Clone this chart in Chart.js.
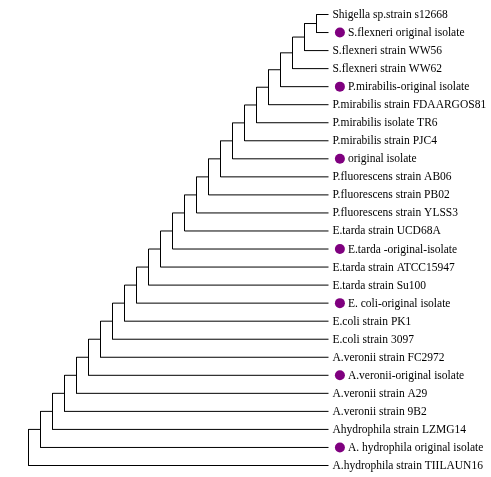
<!DOCTYPE html>
<html>
<head>
<meta charset="utf-8">
<script src="https://cdn.jsdelivr.net/npm/chart.js@4/dist/chart.umd.min.js"></script>
<style>
  html, body { margin: 0; padding: 0; background: #fff; }
  #wrap { width: 491px; height: 477px; }
</style>
</head>
<body>
<div id="wrap"><canvas id="treeChart"></canvas></div>
<script>
// leaves, top to bottom
const leafNames = [
  'Shigella sp.strain s12668',
  'S.flexneri original isolate',
  'S.flexneri strain WW56',
  'S.flexneri strain WW62',
  'P.mirabilis-original isolate',
  'P.mirabilis strain FDAARGOS81',
  'P.mirabilis isolate TR6',
  'P.mirabilis strain PJC4',
  'original isolate',
  'P.fluorescens strain AB06',
  'P.fluorescens strain PB02',
  'P.fluorescens strain YLSS3',
  'E.tarda strain UCD68A',
  'E.tarda -original-isolate',
  'E.tarda strain ATCC15947',
  'E.tarda strain Su100',
  'E. coli-original isolate',
  'E.coli strain PK1',
  'E.coli strain 3097',
  'A.veronii strain FC2972',
  'A.veronii-original isolate',
  'A.veronii strain A29',
  'A.veronii strain 9B2',
  'Ahydrophila strain LZMG14',
  'A. hydrophila original isolate',
  'A.hydrophila strain TIILAUN16'
];

// 1 = own isolate (marked with a dot)
const isolateFlag = [0,1,0,0,1,0,0,0,1,0,0,0,0,1,0,0,1,0,0,0,1,0,0,0,1,0];

// depth of each internal node, innermost (leaves 0+1) first, root last
const nodeDepth = [24,23,22,21,20,19,18,17,16,15,14,13,12,11,10,9,8,7,6,5,4,3,2,1,0];
const tipDepth = 25;

// ladder tree: node k joins node k-1 (or leaf 0) with leaf k+1
const branchSets = [];
let prev = { x: tipDepth, y: 0 };
nodeDepth.forEach((d, k) => {
  const leafY = k + 1;
  const nodeY = (prev.y + leafY) / 2;
  branchSets.push({
    type: 'line',
    data: [
      { x: prev.x, y: prev.y },
      { x: d, y: prev.y },
      { x: d, y: leafY },
      { x: tipDepth, y: leafY }
    ],
    borderColor: '#000',
    borderWidth: 1,
    pointRadius: 0,
    fill: false,
    tension: 0
  });
  prev = { x: d, y: nodeY };
});

const dotPoints = [];
isolateFlag.forEach((f, i) => {
  if (f) dotPoints.push({ x: tipDepth + 0.95, y: i });
});

const labelPlugin = {
  id: 'leafLabels',
  afterDatasetsDraw(chart) {
    const { ctx, scales } = chart;
    ctx.save();
    ctx.font = '11.5px "Liberation Serif", "Times New Roman", serif';
    ctx.fillStyle = '#000';
    ctx.textBaseline = 'middle';
    leafNames.forEach((name, i) => {
      const shift = isolateFlag[i] ? 1.62 : 0.33;
      ctx.fillText(name, scales.x.getPixelForValue(tipDepth + shift), scales.y.getPixelForValue(i) + 0.5);
    });
    ctx.restore();
  }
};

new Chart(document.getElementById('treeChart').getContext('2d'), {
  type: 'scatter',
  data: {
    datasets: [
      ...branchSets,
      {
        type: 'scatter',
        data: dotPoints,
        backgroundColor: '#7f007f',
        borderColor: '#7f007f',
        pointRadius: 5,
        borderWidth: 0
      }
    ]
  },
  options: {
    responsive: true,
    maintainAspectRatio: false,
    animation: false,
    layout: { padding: 0, autoPadding: false },
    plugins: { legend: { display: false }, tooltip: { enabled: false } },
    scales: {
      x: { type: 'linear', display: false, min: -28.5 / 12, max: (491 - 28.5) / 12 },
      y: { type: 'linear', display: false, reverse: true, min: -14.5 / 18.04, max: (477 - 14.5) / 18.04 }
    }
  },
  plugins: [labelPlugin]
});
</script>
</body>
</html>
